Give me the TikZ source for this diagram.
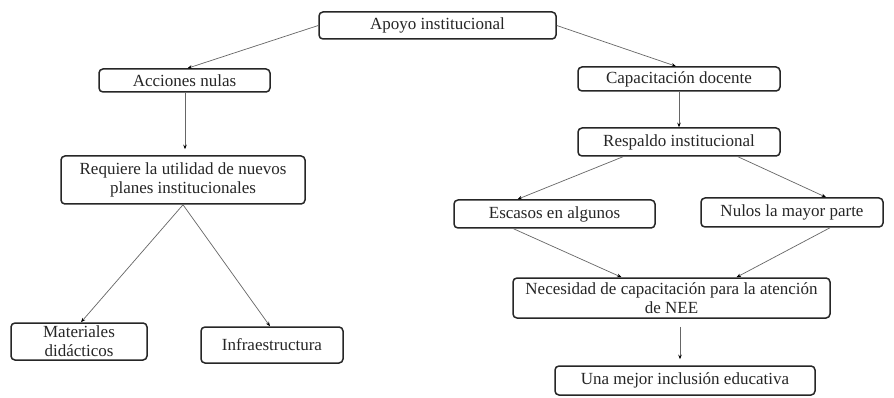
\documentclass[tikz,border=0pt]{standalone}
\usepackage{fontspec}
\setmainfont{Liberation Serif}
\newfontfamily\boxfont{Liberation Serif}
\usetikzlibrary{arrows.meta,calc}
\begin{document}
\begin{tikzpicture}[x=1pt,y=-1pt,
  box/.style={draw=black!85,line width=1.5pt,rounded corners=4pt,inner sep=0pt,align=center,
    font=\boxfont\fontsize{17}{19}\selectfont,text=black!85},
  conn/.style={draw=black!60,line width=0.7pt,-{Stealth[length=4.5pt,width=3.5pt,black]}}]
\path[use as bounding box,fill=white] (0,0) rectangle (894,398);
\node[box,minimum width=237pt,minimum height=27pt] (apoyo) at (437.5,25.5) {Apoyo institucional};
\node[box,minimum width=171pt,minimum height=23pt] (acc) at (184.5,80.5) {Acciones nulas};
\node[box,minimum width=244pt,minimum height=48pt] (req) at (183,180) {Requiere la utilidad de nuevos\\planes institucionales};
\node[box,minimum width=136pt,minimum height=37pt] (mat) at (79,341.5) {Materiales\\did\'acticos};
\node[box,minimum width=142pt,minimum height=36pt] (inf) at (272,345) {Infraestructura};
\node[box,minimum width=202pt,minimum height=24pt] (cap) at (679,79) {Capacitaci\'on docente};
\node[box,minimum width=202pt,minimum height=28pt] (resp) at (679,142) {Respaldo institucional};
\node[box,minimum width=201pt,minimum height=28pt] (esc) at (554.5,214) {Escasos en algunos};
\node[box,minimum width=182pt,minimum height=29pt] (nul) at (792,212.5) {Nulos la mayor parte};
\node[box,minimum width=317pt,minimum height=40pt] (nec) at (671.5,298) {Necesidad de capacitaci\'on para la atenci\'on\\de NEE};
\node[box,minimum width=260pt,minimum height=29pt] (una) at (685,380.5) {Una mejor inclusi\'on educativa};
\draw[conn] (apoyo.west) -- ($(acc.north)+(3,0)$);
\draw[conn] (apoyo.east) -- ($(cap.north)+(-3,0)$);
\draw[conn] ($(acc.south)+(0.5,0)$) -- ($(req.north)+(2,-6)$);
\draw[conn] (cap.south) -- (resp.north);
\draw[conn] (req.south) -- ($(mat.north)+(2,0)$);
\draw[conn] (req.south) -- ($(inf.north)+(-2,0)$);
\draw[conn] ($(resp.south)+(-56,0)$) -- ($(esc.north)+(-37,0)$);
\draw[conn] ($(resp.south)+(59,0)$) -- ($(nul.north)+(34,0)$);
\draw[conn] ($(esc.south)+(-41,0)$) -- ($(nec.north)+(-50,0)$);
\draw[conn] ($(nul.south)+(38,0)$) -- ($(nec.north)+(65,0)$);
\draw[conn] ($(nec.south)+(8.5,8)$) -- ($(una.north)+(-5,-6)$);
\end{tikzpicture}
\end{document}
